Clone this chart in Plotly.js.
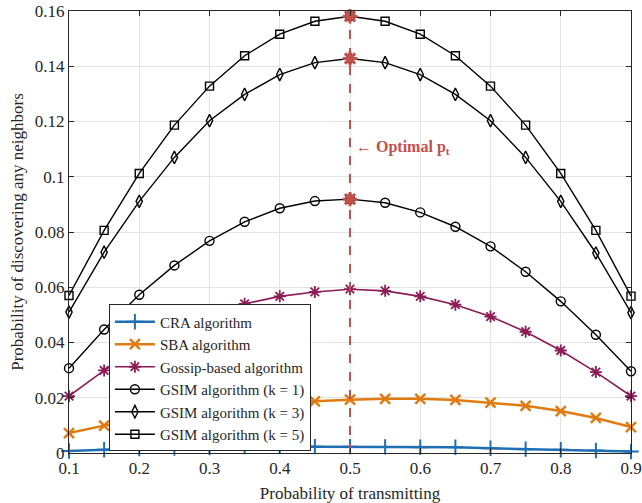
<!DOCTYPE html>
<html>
<head>
<meta charset="utf-8">
<script src="https://cdn.plot.ly/plotly-3.0.1.min.js"></script>
<style>html,body{margin:0;padding:0;background:#fff;}#chart{width:642px;height:503px;}</style>
</head>
<body>
<div id="chart"></div>
<script>
var pt = [0.1,0.15,0.2,0.25,0.3,0.35,0.4,0.45,0.5,0.55,0.6,0.65,0.7,0.75,0.8,0.85,0.9];
var cra = [0.0007,0.0012,0.0016,0.0018,0.0020,0.0023,0.0023,0.0023,0.0023,0.0022,0.0021,0.0021,0.0017,0.0014,0.0012,0.0009,0.0005];
var sba = [0.0072,0.0099,0.0121,0.0139,0.0155,0.0168,0.0179,0.0187,0.0193,0.0196,0.0196,0.0192,0.0182,0.0171,0.0152,0.0127,0.0094];
var gossip = [0.0206,0.0299,0.0375,0.0443,0.0497,0.0540,0.0567,0.0583,0.0593,0.0587,0.0567,0.0537,0.0494,0.0439,0.0371,0.0293,0.0206];
var gsim1 = [0.0307,0.0447,0.0573,0.0679,0.0768,0.0837,0.0886,0.0912,0.0919,0.0906,0.0871,0.0819,0.0748,0.0656,0.0549,0.0428,0.0296];
var gsim3 = [0.0510,0.0727,0.0911,0.1070,0.1203,0.1298,0.1370,0.1413,0.1428,0.1413,0.1370,0.1298,0.1203,0.1070,0.0911,0.0724,0.0508];
var gsim5 = [0.0570,0.0806,0.1012,0.1187,0.1328,0.1438,0.1516,0.1563,0.1581,0.1563,0.1516,0.1438,0.1328,0.1187,0.1012,0.0806,0.0568];
var names = ['CRA algorithm','SBA algorithm','Gossip-based algorithm','GSIM algorithm (k = 1)','GSIM algorithm (k = 3)','GSIM algorithm (k = 5)'];
var optimalP = 0.5;
var optLabel = '\u2190 Optimal p<sub>t</sub>';

var red = '#C4504B';
function tr(y, name, color, sym, lw, ms, mlw){
  return {x: pt, y: y, name: name, type:'scatter', mode:'lines+markers', cliponaxis:false,
    line:{color:color, width:lw},
    marker:{symbol:sym, size:ms, color:color, line:{color:color, width:mlw}}};
}
var idx = pt.indexOf(optimalP);
var traces = [
  tr(cra, names[0], '#1F6FB5', 'cross-thin-open', 2.5, 11, 2),
  tr(sba, names[1], '#E07B12', 'x-thin-open', 2.5, 10, 2.5),
  tr(gossip, names[2], '#8C1C55', 'asterisk-open', 1.6, 10, 1.8),
  tr(gsim1, names[3], '#000000', 'circle-open', 1.4, 9, 1.4),
  tr(gsim3, names[4], '#000000', 'diamond-tall-open', 1.4, 9, 1.4),
  tr(gsim5, names[5], '#000000', 'square-open', 1.4, 8, 1.4),
  {x:[optimalP, optimalP], y:[0, gsim5[idx]], type:'scatter', mode:'lines', showlegend:false, cliponaxis:false,
   line:{color:red, width:2, dash:'dash'}, hoverinfo:'skip'},
  {x:[optimalP, optimalP, optimalP], y:[gsim1[idx], gsim3[idx], gsim5[idx]], type:'scatter', mode:'markers', showlegend:false, cliponaxis:false,
   marker:{symbol:'asterisk-open', size:12, color:red, line:{color:red, width:3}}}
];
var ff = 'Liberation Serif, Times New Roman, serif';
var axisFont = {family:ff, size:17, color:'#262626'};
var titleFont = {family:ff, size:17, color:'#262626'};
var layout = {
  width:642, height:503,
  margin:{l:69, r:11, t:11, b:50},
  paper_bgcolor:'#fff', plot_bgcolor:'#fff',
  font:{family:ff, size:16, color:'#262626'},
  xaxis:{range:[0.1,0.9], dtick:0.1, tick0:0.1, ticks:'inside', ticklen:5, tickcolor:'#262626',
    showline:true, linecolor:'#262626', linewidth:1, mirror:'ticks', showgrid:true, gridcolor:'#e3e3e3', zeroline:false,
    tickfont:axisFont, title:{text:'Probability of transmitting', font:titleFont, standoff:9}},
  yaxis:{range:[0,0.16], dtick:0.02, ticks:'inside', ticklen:5, tickcolor:'#262626',
    showline:true, linecolor:'#262626', linewidth:1, mirror:'ticks', showgrid:true, gridcolor:'#e3e3e3', zeroline:false,
    tickfont:axisFont, title:{text:'Probability of discovering any neighbors', font:titleFont, standoff:6}},
  legend:{x:0.071, y:0.336, xanchor:'left', yanchor:'top', bgcolor:'#fff', bordercolor:'#262626', borderwidth:1,
    font:{family:ff, size:15, color:'#262626'}, tracegroupgap:0, itemwidth:40},
  annotations:[{x:optimalP, y:0.1105, xref:'x', yref:'y', xanchor:'left', yanchor:'middle', xshift:4, showarrow:false,
    text:'<b>'+optLabel+'</b>', font:{family:ff, size:16, color:red}}],
  showlegend:true
};
Plotly.newPlot('chart', traces, layout, {displayModeBar:false, staticPlot:true});
</script>
</body>
</html>
